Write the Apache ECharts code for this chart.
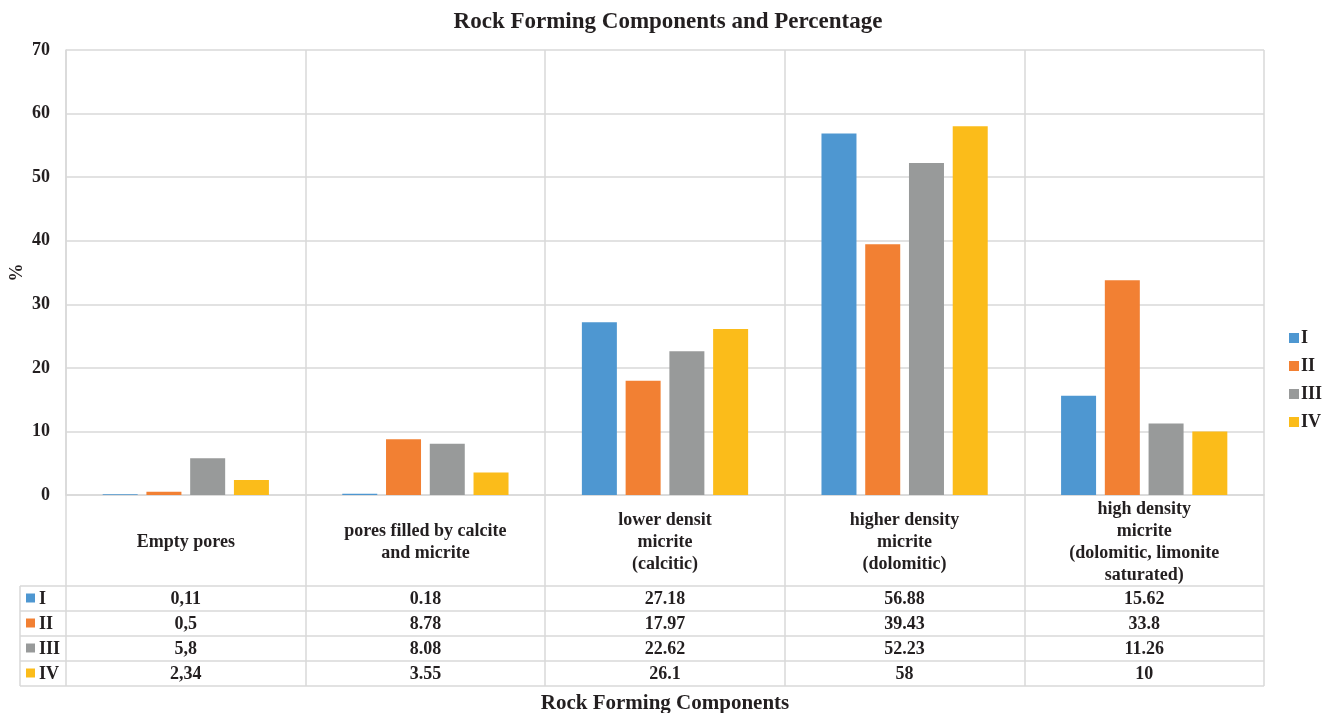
<!DOCTYPE html>
<html>
<head>
<meta charset="utf-8">
<script src="https://cdn.jsdelivr.net/npm/echarts@6/dist/echarts.min.js"></script>
<style>
  html, body { margin: 0; padding: 0; background: #fff; }
  #chart { width: 1336px; height: 713px; }
</style>
</head>
<body>
<div id="chart"></div>
<script>
// Components measured in each sample
const categories = [
  'Empty pores',
  'pores filled by calcite\nand micrite',
  'lower densit\nmicrite\n(calcitic)',
  'higher density\nmicrite\n(dolomitic)',
  'high density\nmicrite\n(dolomitic, limonite\nsaturated)'
];

const seriesNames = ['I', 'II', 'III', 'IV'];
const seriesColors = ['#4E97D1', '#F28033', '#989A9A', '#FBBC1A'];

// Percentages as written in the data table
const valuesI   = ['0,11', '0.18', '27.18', '56.88', '15.62'];
const valuesII  = ['0,5',  '8.78', '17.97', '39.43', '33.8'];
const valuesIII = ['5,8',  '8.08', '22.62', '52.23', '11.26'];
const valuesIV  = ['2,34', '3.55', '26.1',  '58',    '10'];

const yTicks = [0, 10, 20, 30, 40, 50, 60, 70];

const tableRows = [valuesI, valuesII, valuesIII, valuesIV];
const toNumber = s => parseFloat(s.replace(',', '.'));

// Layout
const W = 1336, H = 713;
const plotLeft = 66, plotRight = 1264, plotTop = 50, plotBottom = 495;
const headerBottom = 586, rowH = 25, tableLeft = 20;
const rowLines = [0, 1, 2, 3, 4].map(i => headerBottom + i * rowH);
const lineColor = '#D9D9D9';
const font = '"Liberation Serif", "Times New Roman", serif';
const textColor = '#231F20';
const labelSize = 18;

const chart = echarts.init(document.getElementById('chart'), null, { renderer: 'canvas' });

const xAxes = [{
  type: 'category',
  data: categories,
  position: 'bottom',
  boundaryGap: true,
  name: 'Rock Forming Components',
  nameLocation: 'middle',
  nameGap: 209,
  nameTextStyle: { fontFamily: font, fontWeight: 'bold', fontSize: 21, color: textColor, verticalAlign: 'middle' },
  axisLine: { show: true, lineStyle: { color: lineColor, width: 1.5 } },
  axisTick: { show: true, length: rowLines[4] - plotBottom, lineStyle: { color: lineColor, width: 1.5 } },
  splitLine: { show: true, lineStyle: { color: lineColor, width: 1.5 } },
  axisLabel: {
    interval: 0, margin: 47, verticalAlign: 'middle', lineHeight: 22,
    fontFamily: font, fontWeight: 'bold', fontSize: labelSize, color: textColor
  }
}];

// One category axis per table row, carrying the printed values
tableRows.forEach((row, i) => {
  xAxes.push({
    type: 'category',
    data: row,
    position: 'bottom',
    offset: rowLines[i] + rowH / 2 - plotBottom,
    axisLine: { show: false },
    axisTick: { show: false },
    splitLine: { show: false },
    axisLabel: {
      interval: 0, margin: 1, verticalAlign: 'middle',
      fontFamily: font, fontWeight: 'bold', fontSize: labelSize, color: textColor
    }
  });
});

const graphics = [];
rowLines.forEach(y => {
  graphics.push({
    type: 'line', silent: true,
    shape: { x1: tableLeft, y1: y, x2: plotRight, y2: y },
    style: { stroke: lineColor, lineWidth: 1.5 }
  });
});
graphics.push({
  type: 'line', silent: true,
  shape: { x1: tableLeft, y1: rowLines[0], x2: tableLeft, y2: rowLines[4] },
  style: { stroke: lineColor, lineWidth: 1.5 }
});
seriesNames.forEach((name, i) => {
  const cy = rowLines[i] + rowH / 2;
  graphics.push({
    type: 'rect', silent: true,
    shape: { x: 26, y: cy - 5, width: 9, height: 9 },
    style: { fill: seriesColors[i] }
  });
  graphics.push({
    type: 'text', silent: true,
    x: 39, y: cy + 1,
    style: {
      text: name, fill: textColor, font: 'bold ' + labelSize + 'px ' + font,
      verticalAlign: 'middle'
    }
  });
});
// Value-axis unit, rotated beside the axis labels
graphics.push({
  type: 'text', silent: true,
  x: 17, y: (plotTop + plotBottom) / 2,
  rotation: Math.PI / 2,
  style: {
    text: '%', fill: textColor, font: 'bold ' + labelSize + 'px ' + font,
    align: 'center', verticalAlign: 'middle'
  }
});

const option = {
  backgroundColor: '#fff',
  animation: false,
  title: {
    text: 'Rock Forming Components and Percentage',
    left: 'center',
    top: 6,
    textStyle: { fontFamily: font, fontWeight: 'bold', fontSize: 23, color: textColor }
  },
  legend: {
    orient: 'vertical',
    left: 1284,
    top: 324,
    itemWidth: 10,
    itemHeight: 10,
    itemGap: 10,
    icon: 'rect',
    data: seriesNames,
    textStyle: { fontFamily: font, fontWeight: 'bold', fontSize: labelSize, color: textColor, padding: [0, 0, 0, -3] }
  },
  grid: {
    left: plotLeft, right: W - plotRight, top: plotTop, bottom: H - plotBottom,
    containLabel: false, outerBoundsMode: 'none'
  },
  xAxis: xAxes,
  yAxis: {
    type: 'value',
    min: 0, max: 70, interval: 10,
    axisLine: { show: true, lineStyle: { color: lineColor, width: 1.5 } },
    axisTick: { show: false },
    splitLine: { show: true, lineStyle: { color: lineColor, width: 1.5 } },
    axisLabel: {
      margin: 16,
      fontFamily: font, fontWeight: 'bold', fontSize: labelSize, color: textColor,
      formatter: v => (yTicks.includes(v) ? String(v) : '')
    }
  },
  series: seriesNames.map((name, i) => ({
    name,
    type: 'bar',
    xAxisIndex: 0,
    data: tableRows[i].map(toNumber),
    barWidth: 35,
    barGap: '25%',
    itemStyle: { color: seriesColors[i] }
  })),
  graphic: graphics
};

chart.setOption(option);
</script>
</body>
</html>
